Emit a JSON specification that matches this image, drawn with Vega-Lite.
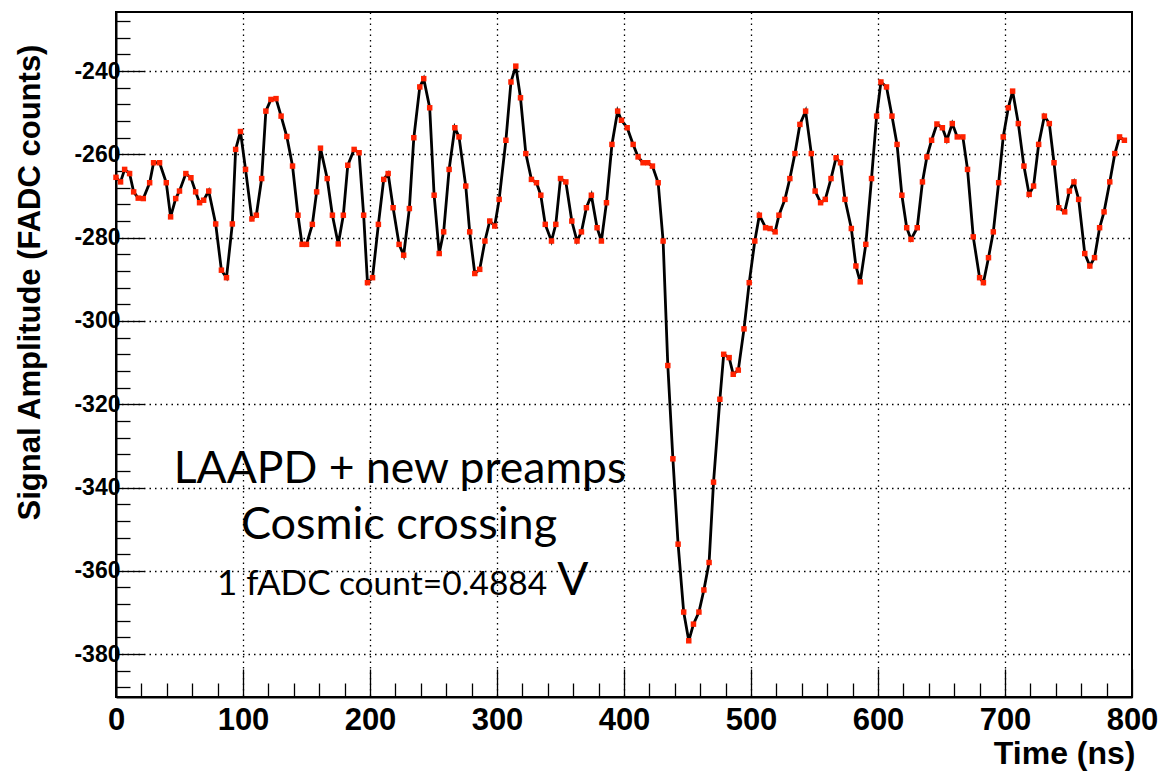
{
  "$schema": "https://vega.github.io/schema/vega-lite/v6.json",
  "width": 1016,
  "height": 685,
  "autosize": {"type": "none"},
  "padding": {"left": 116, "top": 12, "right": 41, "bottom": 74},
  "background": "white",
  "config": {
    "view": {"stroke": "black", "strokeWidth": 2},
    "axis": {"labelColor": "black", "titleColor": "black", "tickColor": "black", "domainColor": "black"}
  },
  "datasets": {
    "wave": [
      {"t":0,"v":-265.5},{"t":3.6,"v":-266.6},{"t":6.8,"v":-263.6},{"t":10.7,"v":-264.6},{"t":13.9,"v":-269},{"t":17.5,"v":-270.5},{"t":21.5,"v":-270.6},{"t":26.5,"v":-266.8},{"t":29.6,"v":-262},{"t":34.3,"v":-262},{"t":39.6,"v":-266.8},{"t":43,"v":-275},{"t":47,"v":-270.6},{"t":50,"v":-268.8},{"t":55,"v":-264.6},{"t":59,"v":-265.6},{"t":62.7,"v":-269},{"t":65.8,"v":-271.6},{"t":69,"v":-271},{"t":73,"v":-268.8},{"t":78.5,"v":-276.7},{"t":83,"v":-287.8},{"t":87,"v":-289.6},{"t":91.6,"v":-276.7},{"t":94.2,"v":-258.8},{"t":98,"v":-254.5},{"t":102,"v":-263.6},{"t":107,"v":-275.5},{"t":110.5,"v":-274.6},{"t":114.7,"v":-265.8},{"t":118,"v":-249.6},{"t":122,"v":-246.8},{"t":126,"v":-246.6},{"t":130,"v":-250.8},{"t":134.5,"v":-255.7},{"t":139,"v":-262.8},{"t":143.3,"v":-274.6},{"t":146.5,"v":-281.6},{"t":150,"v":-281.6},{"t":154.6,"v":-276.8},{"t":158,"v":-269},{"t":161,"v":-258.5},{"t":166.3,"v":-265.8},{"t":170.4,"v":-274.6},{"t":175,"v":-281.5},{"t":179,"v":-274.6},{"t":182.5,"v":-262.6},{"t":187.5,"v":-258.8},{"t":191.4,"v":-259.6},{"t":195,"v":-274.6},{"t":198,"v":-290.8},{"t":202,"v":-289.6},{"t":206.6,"v":-276.8},{"t":210.8,"v":-266},{"t":214.3,"v":-264.6},{"t":218.2,"v":-272.8},{"t":222.9,"v":-281.6},{"t":226.5,"v":-284.2},{"t":231,"v":-273},{"t":234.5,"v":-256},{"t":239.2,"v":-243.8},{"t":242.3,"v":-241.8},{"t":247,"v":-248.8},{"t":250.5,"v":-269.8},{"t":254.5,"v":-283.8},{"t":258,"v":-278.6},{"t":262.3,"v":-263.6},{"t":266.8,"v":-253.6},{"t":270.1,"v":-255.8},{"t":275.4,"v":-267.6},{"t":278.5,"v":-278.6},{"t":282.5,"v":-288.6},{"t":286.4,"v":-287.6},{"t":290.5,"v":-280.8},{"t":294.3,"v":-276},{"t":298.2,"v":-277.2},{"t":301.7,"v":-270.8},{"t":307,"v":-256.6},{"t":311,"v":-242.6},{"t":314.8,"v":-238.8},{"t":318.5,"v":-246.4},{"t":322.7,"v":-259.8},{"t":327.1,"v":-266},{"t":331.1,"v":-266.8},{"t":334.5,"v":-269.8},{"t":338,"v":-276.8},{"t":342.9,"v":-280.8},{"t":346.3,"v":-276.8},{"t":350,"v":-265.8},{"t":354.2,"v":-266.6},{"t":358.9,"v":-276},{"t":363,"v":-280.8},{"t":366.5,"v":-278.6},{"t":370.4,"v":-272.8},{"t":374.3,"v":-269.8},{"t":378.8,"v":-277.6},{"t":382.2,"v":-280.8},{"t":386.2,"v":-271.6},{"t":390.5,"v":-257.6},{"t":395,"v":-249.6},{"t":398,"v":-251.8},{"t":402.5,"v":-253.6},{"t":407.2,"v":-257.6},{"t":411.1,"v":-260.6},{"t":415,"v":-262},{"t":418.7,"v":-262},{"t":422.4,"v":-262.8},{"t":426.9,"v":-266.8},{"t":430.8,"v":-280.8},{"t":434.5,"v":-310.7},{"t":438.5,"v":-333.1},{"t":442.6,"v":-353.6},{"t":447,"v":-369.9},{"t":451,"v":-376.8},{"t":454.7,"v":-372.8},{"t":459,"v":-369.9},{"t":462.9,"v":-364.6},{"t":467,"v":-358},{"t":470.5,"v":-338.7},{"t":475.5,"v":-318.8},{"t":478.5,"v":-308},{"t":482.8,"v":-308.8},{"t":486,"v":-312.8},{"t":490,"v":-311.8},{"t":494.5,"v":-301.9},{"t":498.6,"v":-290.8},{"t":503,"v":-280.8},{"t":506.6,"v":-274.6},{"t":511.5,"v":-277.6},{"t":515,"v":-277.8},{"t":519,"v":-278.6},{"t":522,"v":-274.6},{"t":526.7,"v":-270.8},{"t":530.6,"v":-265.8},{"t":534.6,"v":-259.8},{"t":538.5,"v":-252.8},{"t":543,"v":-249.6},{"t":547.5,"v":-259.8},{"t":550.5,"v":-268.8},{"t":554.8,"v":-271.6},{"t":558.5,"v":-270.8},{"t":563,"v":-265.8},{"t":567,"v":-260.8},{"t":570.5,"v":-262},{"t":574,"v":-270.8},{"t":579,"v":-277.8},{"t":582.6,"v":-286.8},{"t":586,"v":-290.6},{"t":590.4,"v":-281.6},{"t":594.9,"v":-265.8},{"t":598.9,"v":-250.8},{"t":602.3,"v":-242.6},{"t":606.7,"v":-243.8},{"t":611,"v":-250.8},{"t":615,"v":-257.6},{"t":618.8,"v":-269.8},{"t":622.6,"v":-277.6},{"t":626,"v":-280.4},{"t":630.9,"v":-277.6},{"t":635,"v":-266.6},{"t":638.5,"v":-260.6},{"t":642.2,"v":-256.6},{"t":646.4,"v":-252.7},{"t":650.7,"v":-253.6},{"t":654.2,"v":-256.6},{"t":658.5,"v":-252.6},{"t":662.4,"v":-255.8},{"t":666.8,"v":-255.8},{"t":670.5,"v":-263.6},{"t":675,"v":-279.8},{"t":680,"v":-289.6},{"t":683,"v":-290.8},{"t":687,"v":-284.8},{"t":690.8,"v":-278.6},{"t":695,"v":-266.8},{"t":698.6,"v":-255.8},{"t":702.6,"v":-248.8},{"t":706,"v":-244.8},{"t":710.5,"v":-252.6},{"t":714.9,"v":-262.8},{"t":719,"v":-269.6},{"t":722.5,"v":-267.6},{"t":726.5,"v":-257.6},{"t":731,"v":-250.8},{"t":734.9,"v":-252.6},{"t":738.6,"v":-262},{"t":742.3,"v":-272.8},{"t":747,"v":-273.8},{"t":750.7,"v":-268.8},{"t":754.3,"v":-266.6},{"t":758,"v":-270.8},{"t":762.8,"v":-283.8},{"t":766.8,"v":-286.8},{"t":770.5,"v":-284.8},{"t":774.5,"v":-277.6},{"t":778,"v":-273.8},{"t":782.5,"v":-266.6},{"t":786.5,"v":-259.8},{"t":790.2,"v":-255.8},{"t":794,"v":-256.6}
    ]
  },
  "layer": [
    {
      "data": {"name": "wave"},
      "mark": {"type": "line", "color": "black", "strokeWidth": 2.8, "strokeJoin": "miter", "clip": true},
      "encoding": {
        "x": {
          "field": "t", "type": "quantitative",
          "scale": {"domain": [0, 800], "nice": false, "zero": false},
          "axis": {
            "values": [0,20,40,60,80,100,120,140,160,180,200,220,240,260,280,300,320,340,360,380,400,420,440,460,480,500,520,540,560,580,600,620,640,660,680,700,720,740,760,780,800],
            "tickCount": 200,
            "labelExpr": "datum.value % 100 === 0 ? '' + datum.value : ''",
            "labelFlush": false,
            "labelOverlap": false,
            "labelFont": "Liberation Sans",
            "labelFontWeight": "bold",
            "labelFontSize": 31,
            "labelPadding": 36,
            "tickSize": {"condition": {"test": "datum.value % 100 === 0", "value": -28}, "value": -14},
            "tickWidth": 1.3,
            "domainWidth": 2,
            "grid": true,
            "gridColor": "black",
            "gridDash": [1.5, 4],
            "gridWidth": 1.3,
            "gridOpacity": {"condition": {"test": "datum.value % 100 === 0 && datum.value > 0 && datum.value < 800", "value": 1}, "value": 0},
            "title": "Time (ns)",
            "titleFont": "Liberation Sans",
            "titleFontWeight": "bold",
            "titleFontSize": 32,
            "titleX": 1019,
            "titleY": 66,
            "titleAlign": "right",
            "titleBaseline": "alphabetic"
          }
        },
        "y": {
          "field": "v", "type": "quantitative",
          "scale": {"domain": [-390.3, -225.8], "nice": false, "zero": false},
          "axis": {
            "values": [-388,-384,-380,-376,-372,-368,-364,-360,-356,-352,-348,-344,-340,-336,-332,-328,-324,-320,-316,-312,-308,-304,-300,-296,-292,-288,-284,-280,-276,-272,-268,-264,-260,-256,-252,-248,-244,-240,-236,-232,-228],
            "tickCount": 200,
            "labelExpr": "datum.value % 20 === 0 ? '' + datum.value : ''",
            "labelFlush": false,
            "labelOverlap": false,
            "labelFont": "Liberation Sans",
            "labelFontWeight": "bold",
            "labelFontSize": 23,
            "labelPadding": 24,
            "tickSize": {"condition": {"test": "datum.value % 20 === 0", "value": -28}, "value": -14},
            "tickWidth": 1.3,
            "domainWidth": 2,
            "grid": true,
            "gridColor": "black",
            "gridDash": [1.5, 4],
            "gridWidth": 1.3,
            "gridOpacity": {"condition": {"test": "datum.value % 20 === 0", "value": 1}, "value": 0},
            "title": "Signal Amplitude (FADC counts)",
            "titleFont": "Liberation Sans",
            "titleFontWeight": "bold",
            "titleFontSize": 31,
            "titleAngle": 270,
            "titleX": -86,
            "titleY": 270,
            "titleAlign": "center",
            "titleBaseline": "middle"
          }
        }
      }
    },
    {
      "data": {"name": "wave"},
      "mark": {"type": "point", "shape": "square", "filled": true, "color": "#ff2200", "size": 30, "opacity": 1},
      "encoding": {
        "x": {"field": "t", "type": "quantitative"},
        "y": {"field": "v", "type": "quantitative"}
      }
    },
    {
      "data": {"values": [{}]},
      "mark": {"type": "text", "text": "LAAPD + new preamps", "font": "Lato", "fontSize": 44.5, "align": "center", "baseline": "alphabetic", "color": "black"},
      "encoding": {"x": {"datum": 223.6, "type": "quantitative"}, "y": {"datum": -339.0, "type": "quantitative"}}
    },
    {
      "data": {"values": [{}]},
      "mark": {"type": "text", "text": "Cosmic crossing", "font": "Lato", "fontSize": 45, "align": "center", "baseline": "alphabetic", "color": "black"},
      "encoding": {"x": {"datum": 222.8, "type": "quantitative"}, "y": {"datum": -352.4, "type": "quantitative"}}
    },
    {
      "data": {"values": [{}]},
      "mark": {"type": "text", "text": "1 fADC", "font": "Lato", "fontSize": 35, "align": "left", "baseline": "alphabetic", "color": "black"},
      "encoding": {"x": {"datum": 79.5, "type": "quantitative"}, "y": {"datum": -365.8, "type": "quantitative"}}
    },
    {
      "data": {"values": [{}]},
      "mark": {"type": "text", "text": "count=0.4884", "font": "Lato", "fontSize": 33.5, "align": "left", "baseline": "alphabetic", "color": "black"},
      "encoding": {"x": {"datum": 175.5, "type": "quantitative"}, "y": {"datum": -365.8, "type": "quantitative"}}
    },
    {
      "data": {"values": [{}]},
      "mark": {"type": "text", "text": "V", "font": "Lato", "fontSize": 46, "align": "left", "baseline": "alphabetic", "color": "black"},
      "encoding": {"x": {"datum": 347.5, "type": "quantitative"}, "y": {"datum": -365.8, "type": "quantitative"}}
    }
  ]
}
